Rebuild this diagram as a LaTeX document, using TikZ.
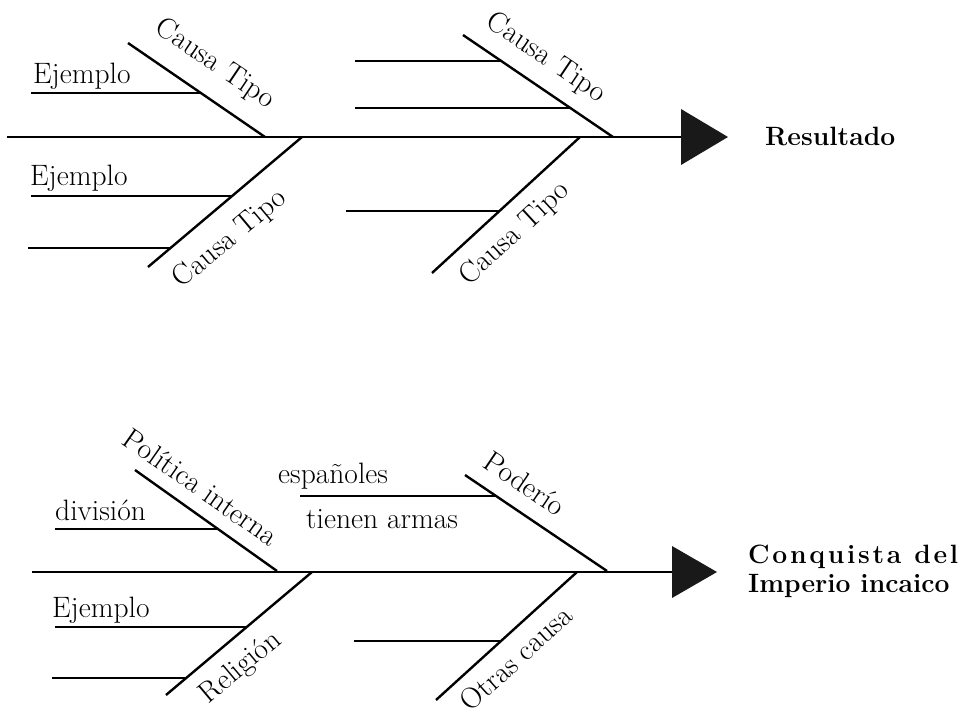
\documentclass[tikz,border=0pt]{standalone}
\usepackage{fontspec}
\begin{document}
\begin{tikzpicture}[x=1pt,y=-1pt,
  bone/.style={line width=2.4pt, line cap=butt},
  lbl/.style={inner sep=0pt, font=\fontsize{29.5}{34}\selectfont},
  res/.style={inner sep=0pt, font=\fontsize{26.5}{31}\selectfont\bfseries},
  headfill/.style={fill=black!90, draw=none}]
\useasboundingbox (0,0) rectangle (960,712);

% ===== Top diagram =====
\coordinate (Ts0) at (7,137);
\coordinate (Ts1) at (681,137);
\coordinate (Th1) at (681,109);
\coordinate (Th2) at (728,137);
\coordinate (Th3) at (681,165);
\draw[bone] (Ts0) -- (Ts1);
\fill[headfill] (Th1) -- (Th2) -- (Th3) -- cycle;
\node[res, anchor=base west] (Tres) at (765,145) {Resultado};

% top-left upper bone
\coordinate (A1) at (128,43);  \coordinate (A2) at (265,137);
\draw[bone] (A1) -- (A2);
\coordinate (a1s) at (31,93);  \coordinate (a1e) at (201,93);
\draw[bone] (a1s) -- (a1e);
\node[lbl, anchor=base west] (ta1) at (33,83) {Ejemplo};
\node[lbl, rotate=-34] (tA) at (215,64) {Causa Tipo};

% top-left lower bone
\coordinate (B1) at (148,267); \coordinate (B2) at (302,137);
\draw[bone] (B1) -- (B2);
\coordinate (b1s) at (31,196); \coordinate (b1e) at (232,196);
\coordinate (b2s) at (28,248); \coordinate (b2e) at (170,248);
\draw[bone] (b1s) -- (b1e);
\draw[bone] (b2s) -- (b2e);
\node[lbl, anchor=base west] (tb1) at (30,185) {Ejemplo};
\node[lbl, rotate=40] (tB) at (230,239) {Causa Tipo};

% top-right upper bone
\coordinate (C1) at (463,35); \coordinate (C2) at (613,137);
\draw[bone] (C1) -- (C2);
\coordinate (c1s) at (355,61);  \coordinate (c1e) at (501,61);
\coordinate (c2s) at (355,108); \coordinate (c2e) at (570,108);
\draw[bone] (c1s) -- (c1e);
\draw[bone] (c2s) -- (c2e);
\node[lbl, rotate=-34] (tC) at (546,58) {Causa Tipo};

% top-right lower bone
\coordinate (D1) at (432,273); \coordinate (D2) at (580,137);
\draw[bone] (D1) -- (D2);
\coordinate (d1s) at (346,211); \coordinate (d1e) at (500,211);
\draw[bone] (d1s) -- (d1e);
\node[lbl, rotate=42.6] (tD) at (515,234) {Causa Tipo};

% ===== Bottom diagram =====
\coordinate (Bs0) at (32,572);
\coordinate (Bs1) at (672,572);
\coordinate (Bh1) at (672,546);
\coordinate (Bh2) at (717,572);
\coordinate (Bh3) at (672,598);
\draw[bone] (Bs0) -- (Bs1);
\fill[headfill] (Bh1) -- (Bh2) -- (Bh3) -- cycle;
\node[res, anchor=base west] (Bres1) at (748,563)
  {\makebox[210pt][s]{C\hfill o\hfill n\hfill q\hfill u\hfill i\hfill s\hfill t\hfill a\hspace{0.38em plus 1fill}d\hfill e\hfill l}};
\node[res, anchor=base west] (Bres2) at (748,592) {Imperio incaico};

% bottom-left upper bone
\coordinate (E1) at (135,470); \coordinate (E2) at (277,571);
\draw[bone] (E1) -- (E2);
\coordinate (e1s) at (55,529); \coordinate (e1e) at (218,529);
\draw[bone] (e1s) -- (e1e);
\node[lbl, anchor=base west] (te1) at (55,520) {división};
\node[lbl, rotate=-35] (tE) at (201,487) {Política interna};

% bottom-left lower bone
\coordinate (F1) at (166,695); \coordinate (F2) at (312,572);
\draw[bone] (F1) -- (F2);
\coordinate (f1s) at (55,627); \coordinate (f1e) at (247,627);
\coordinate (f2s) at (52,678); \coordinate (f2e) at (186,678);
\draw[bone] (f1s) -- (f1e);
\draw[bone] (f2s) -- (f2e);
\node[lbl, anchor=base west] (tf1) at (52,617) {Ejemplo};
\node[lbl, rotate=40] (tF) at (241,668) {Religión};

% bottom-right upper bone
\coordinate (G1) at (465,475); \coordinate (G2) at (607,571);
\draw[bone] (G1) -- (G2);
\coordinate (g1s) at (300,496); \coordinate (g1e) at (496,496);
\draw[bone] (g1s) -- (g1e);
\node[lbl, anchor=base west] (tg1) at (278,483) {españoles};
\node[lbl, anchor=base west] (tg2) at (306,528) {tienen armas};
\node[lbl, rotate=-34] (tG) at (525,483) {Poderío};

% bottom-right lower bone
\coordinate (H1) at (436,700); \coordinate (H2) at (577,572);
\draw[bone] (H1) -- (H2);
\coordinate (h1s) at (354,641); \coordinate (h1e) at (501,641);
\draw[bone] (h1s) -- (h1e);
\node[lbl, rotate=42] (tH) at (516,658) {Otras causa};
\end{tikzpicture}
\end{document}
